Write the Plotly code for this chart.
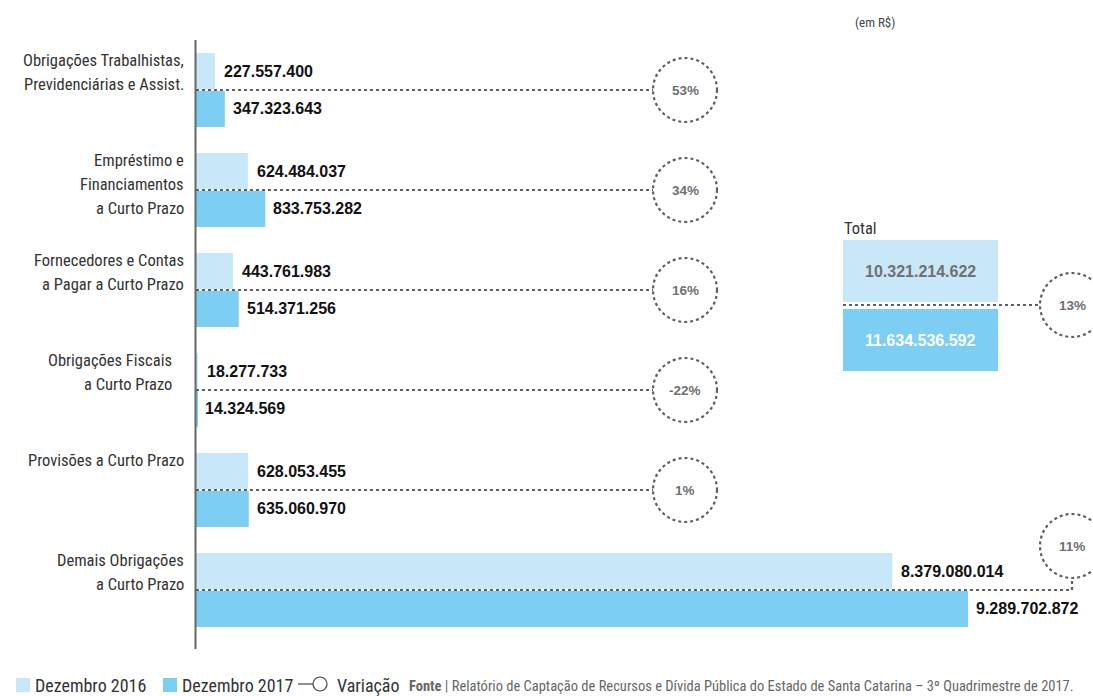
import plotly.graph_objects as go

W, H = 1093, 696

categories = [
    "Obrigações Trabalhistas,<br>Previdenciárias e Assist.",
    "Empréstimo e<br>Financiamentos<br>a Curto Prazo",
    "Fornecedores e Contas<br>a Pagar a Curto Prazo",
    "Obrigações Fiscais<br>a Curto Prazo",
    "Provisões a Curto Prazo",
    "Demais Obrigações<br>a Curto Prazo",
]
dez2016 = [227557400, 624484037, 443761983, 18277733, 628053455, 8379080014]
dez2017 = [347323643, 833753282, 514371256, 14324569, 635060970, 9289702872]
variacao = ["53%", "34%", "16%", "-22%", "1%", "11%"]
total_labels = ["Dezembro 2016", "Dezembro 2017"]
totals = [10321214622, 11634536592]
total_variacao = "13%"

LIGHT = "#C8E8FA"
DARK = "#7CCEF2"
NARROW = "Liberation Sans Narrow, Arial Narrow, Roboto Condensed, sans-serif"
BOLD = "Liberation Sans, Arial, sans-serif"
GRAY = "#707070"

AX_L, AX_T, AX_B = 196, 40, 640


def X(p):
    return p / W


def Y(p):
    return 1 - p / H


def fmt(v):
    return f"{v:,}".replace(",", ".")


fig = go.Figure()
fig.add_trace(go.Bar(y=categories, x=dez2016, orientation="h", name="Dezembro 2016",
                     marker=dict(color=LIGHT, line=dict(width=0)), showlegend=False,
                     hoverinfo="x"))
fig.add_trace(go.Bar(y=categories, x=dez2017, orientation="h", name="Dezembro 2017",
                     marker=dict(color=DARK, line=dict(width=0)), showlegend=False,
                     hoverinfo="x"))

xmax = dez2017[-1] * (W - AX_L) / (968 - AX_L)

fig.update_layout(
    width=W, height=H,
    margin=dict(l=0, r=0, t=0, b=0),
    paper_bgcolor="white", plot_bgcolor="white",
    barmode="group", bargap=0.24, bargroupgap=0.05,
    xaxis=dict(domain=[X(AX_L), 1], range=[0, xmax], visible=False, fixedrange=True),
    yaxis=dict(domain=[Y(AX_B), Y(AX_T)], autorange="reversed", showticklabels=False,
               showgrid=False, zeroline=False, showline=False, ticks=""),
    showlegend=False,
)

shapes = []
ann = []

# vertical axis line
shapes.append(dict(type="line", xref="paper", yref="paper", x0=X(AX_L - 0.5), x1=X(AX_L - 0.5),
                   y0=Y(AX_T), y1=Y(649), line=dict(color="#666666", width=2)))

dot = dict(color="#5f5f5f", width=2.2, dash="dot")
circ_x = 685
R = 32
pct_font = dict(family=BOLD, size=13.5, color=GRAY)
for i, cat in enumerate(categories):
    # category labels, top aligned with group
    lines = cat.split("<br>")
    right = 174 if i == 3 else 186
    for k, ln in enumerate(lines):
        ann.append(dict(text=ln, xref="paper", yref="y", x=X(right), y=i, xanchor="right",
                        yanchor="middle", yshift=30 - 24 * k, showarrow=False,
                        font=dict(family=NARROW, size=16.5, color="#333333")))
    # value labels
    ann.append(dict(text=f"<b>{fmt(dez2016[i])}</b>", x=dez2016[i], y=i, xref="x", yref="y",
                    xanchor="left", yanchor="middle", xshift=7, yshift=19, showarrow=False,
                    font=dict(family=BOLD, size=16, color="#111111")))
    ann.append(dict(text=f"<b>{fmt(dez2017[i])}</b>", x=dez2017[i], y=i, xref="x", yref="y",
                    xanchor="left", yanchor="middle", xshift=6, yshift=-18, showarrow=False,
                    font=dict(family=BOLD, size=16, color="#111111")))
    if i < len(categories) - 1:
        shapes.append(dict(type="line", xref="paper", yref="y", x0=X(AX_L), x1=X(circ_x - R),
                           y0=i, y1=i, line=dot))
        shapes.append(dict(type="circle", xref="paper", yref="y", x0=X(circ_x - R), x1=X(circ_x + R),
                           y0=i - R / 100, y1=i + R / 100, line=dot))
        ann.append(dict(text=f"<b>{variacao[i]}</b>", xref="paper", yref="y", x=X(circ_x), y=i,
                        xanchor="center", yanchor="middle", showarrow=False, font=pct_font))
    else:
        cx, cyo = 1072, -0.44
        shapes.append(dict(type="path", xref="paper", yref="y",
                           path=f"M {X(AX_L)} {i} L {X(cx)} {i} L {X(cx)} {i + cyo + R / 100}",
                           line=dot))
        shapes.append(dict(type="circle", xref="paper", yref="y", x0=X(cx - R), x1=X(cx + R),
                           y0=i + cyo - R / 100, y1=i + cyo + R / 100, line=dot))
        ann.append(dict(text=f"<b>{variacao[i]}</b>", xref="paper", yref="y", x=X(cx), y=i + cyo,
                        xanchor="center", yanchor="middle", showarrow=False, font=pct_font))

# Total panel
bx0, bx1 = 843, 998
boxes = [(240, 302, LIGHT, GRAY), (309, 371, DARK, "white")]
for (t, b, col, tcol), v in zip(boxes, totals):
    shapes.append(dict(type="rect", xref="paper", yref="paper", x0=X(bx0), x1=X(bx1),
                       y0=Y(b), y1=Y(t), fillcolor=col, line=dict(width=0), layer="below"))
    ann.append(dict(text=f"<b>{fmt(v)}</b>", xref="paper", yref="paper", x=X((bx0 + bx1) / 2),
                    y=Y((t + b) / 2), xanchor="center", yanchor="middle", showarrow=False,
                    font=dict(family=BOLD, size=16, color=tcol)))
shapes.append(dict(type="line", xref="paper", yref="paper", x0=X(bx0), x1=X(1072 - R),
                   y0=Y(305), y1=Y(305), line=dot))
shapes.append(dict(type="circle", xref="paper", yref="paper", x0=X(1072 - R), x1=X(1072 + R),
                   y0=Y(305 + R), y1=Y(305 - R), line=dot))
ann.append(dict(text=f"<b>{total_variacao}</b>", xref="paper", yref="paper", x=X(1072), y=Y(305),
                xanchor="center", yanchor="middle", showarrow=False, font=pct_font))
ann.append(dict(text="Total", xref="paper", yref="paper", x=X(842), y=Y(228), xanchor="left",
                yanchor="middle", showarrow=False, font=dict(family=NARROW, size=16.5, color="#333333")))
ann.append(dict(text="(em R$)", xref="paper", yref="paper", x=X(853), y=Y(22), xanchor="left",
                yanchor="middle", showarrow=False, font=dict(family=NARROW, size=13, color="#444444")))

# Legend
LY = 685
shapes.append(dict(type="rect", xref="paper", yref="paper", x0=X(16), x1=X(30), y0=Y(692), y1=Y(678),
                   fillcolor=LIGHT, line=dict(width=0)))
ann.append(dict(text=total_labels[0], xref="paper", yref="paper", x=X(33), y=Y(LY), xanchor="left",
                yanchor="middle", showarrow=False, font=dict(family=NARROW, size=18, color="#333333")))
shapes.append(dict(type="rect", xref="paper", yref="paper", x0=X(163), x1=X(177), y0=Y(692), y1=Y(678),
                   fillcolor=DARK, line=dict(width=0)))
ann.append(dict(text=total_labels[1], xref="paper", yref="paper", x=X(180), y=Y(LY), xanchor="left",
                yanchor="middle", showarrow=False, font=dict(family=NARROW, size=18, color="#333333")))
shapes.append(dict(type="line", xref="paper", yref="paper", x0=X(298), x1=X(313), y0=Y(684), y1=Y(684),
                   line=dict(color="#444444", width=1.2)))
shapes.append(dict(type="circle", xref="paper", yref="paper", x0=X(313), x1=X(327), y0=Y(691), y1=Y(677),
                   line=dict(color="#444444", width=1.2)))
ann.append(dict(text="Variação", xref="paper", yref="paper", x=X(335), y=Y(LY), xanchor="left",
                yanchor="middle", showarrow=False, font=dict(family=NARROW, size=18, color="#333333")))
ann.append(dict(text="<b>Fonte</b> | Relatório de Captação de Recursos e Dívida Pública do Estado de Santa Catarina – 3º Quadrimestre de 2017.",
                xref="paper", yref="paper", x=X(407), y=Y(686), xanchor="left", yanchor="middle",
                showarrow=False, font=dict(family=NARROW, size=14.5, color="#666666")))

fig.update_layout(shapes=shapes, annotations=ann)
fig.write_html("out.html")
